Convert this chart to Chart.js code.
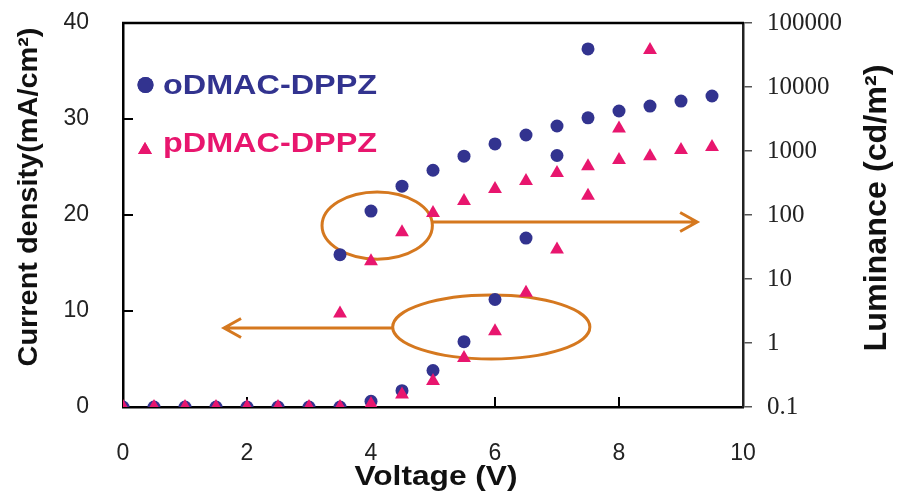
<!DOCTYPE html>
<html>
<head>
<meta charset="utf-8">
<script src="https://cdn.jsdelivr.net/npm/chart.js@4.4.0/dist/chart.umd.min.js"></script>
<style>
  html, body { margin: 0; padding: 0; background: #fff; }
  #wrap { width: 898px; height: 501px; }
</style>
</head>
<body>
<div id="wrap"><canvas id="chart" width="898" height="501"></canvas></div>
<script>
// voltage steps (V)
const voltage = [0, 0.5, 1, 1.5, 2, 2.5, 3, 3.5, 4, 4.5, 5, 5.5, 6, 6.5, 7, 7.5, 8, 8.5, 9, 9.5];

// current density (mA/cm2)
const oCurrent = [0, 0, 0, 0, 0, 0, 0, 0, 0.6, 1.7, 3.8, 6.8, 11.2, 17.6, 26.2, 37.3];
const pCurrent = [0, 0, 0, 0, 0, 0, 0, 0, 0.3, 1.3, 2.7, 5.1, 7.9, 11.9, 16.4, 22.0, 29.0, 37.2];

// luminance (cd/m2), right log axis, starting at 3.5 V
const lumVoltage = [3.5, 4, 4.5, 5, 5.5, 6, 6.5, 7, 7.5, 8, 8.5, 9, 9.5];
const oLuminance = [24, 115, 282, 500, 830, 1290, 1780, 2460, 3300, 4220, 5040, 6030, 7240];
const pLuminance = [2.9, 19, 54, 107, 165, 255, 340, 453, 580, 725, 830, 1040, 1150];

const xTicks = [0, 2, 4, 6, 8, 10];
const currentTicks = [0, 10, 20, 30, 40];
const lumTicks = [0.1, 1, 10, 100, 1000, 10000, 100000];
const seriesNames = ['oDMAC-DPPZ', 'pDMAC-DPPZ'];

const BLUE = '#32338f';
const PINK = '#e8166e';
const ORANGE = '#d5781f';
const SANS = '"Liberation Sans", Arial, sans-serif';
const SERIF = '"Liberation Serif", "Times New Roman", serif';

const pts = (xs, ys) => ys.map((y, i) => ({ x: xs[i], y: y }));

// draw text squeezed/stretched to a given length
function fitText(ctx, text, x, y, len, angle) {
    ctx.save();
    ctx.translate(x, y);
    ctx.rotate(angle || 0);
    const w = ctx.measureText(text).width;
    ctx.scale(len / w, 1);
    ctx.fillText(text, 0, 0);
    ctx.restore();
}

// fixed axis box sizes, so the plot area lands where the original has it
const fixSize = (w, h) => s => {
    if (w) s.width = w;
    if (h) s.height = h;
    s.paddingTop = 0;
    s.paddingBottom = 0;
};

// orange callouts, in data units of the x axis and the left axis
const callouts = [
    { cx: 4.1, cy: 18.9, rx: 0.89, ry: 3.5, fromX: 4.99, toX: 9.26, arrowY: 19.27 },
    { cx: 5.94, cy: 8.33, rx: 1.59, ry: 3.33, fromX: 4.35, toX: 1.63, arrowY: 8.23 }
];

const decorations = {
    id: 'decorations',
    beforeDatasetsDraw(chart) {
        const { ctx, scales } = chart;
        const x = scales.x, y = scales.yJ;
        const left = x.getPixelForValue(xTicks[0]);
        const right = x.getPixelForValue(xTicks[xTicks.length - 1]);
        const top = y.getPixelForValue(currentTicks[currentTicks.length - 1]);
        const bottom = y.getPixelForValue(currentTicks[0]);
        ctx.save();

        // top frame line
        ctx.strokeStyle = '#000000';
        ctx.lineWidth = 2.5;
        ctx.beginPath();
        ctx.moveTo(left - 1, top);
        ctx.lineTo(right + 1, top);
        ctx.stroke();

        // inward tick marks
        ctx.lineWidth = 2;
        ctx.beginPath();
        xTicks.slice(1, -1).forEach(v => {
            const px = x.getPixelForValue(v);
            ctx.moveTo(px, bottom);
            ctx.lineTo(px, bottom - 10);
        });
        currentTicks.slice(1).forEach(v => {
            const py = y.getPixelForValue(v);
            ctx.moveTo(left, py);
            ctx.lineTo(left + 10, py);
        });
        ctx.stroke();

        // callouts
        ctx.strokeStyle = ORANGE;
        ctx.lineWidth = 3;
        callouts.forEach(c => {
            const px = x.getPixelForValue(c.cx), py = y.getPixelForValue(c.cy);
            const rx = x.getPixelForValue(c.cx + c.rx) - px;
            const ry = py - y.getPixelForValue(c.cy + c.ry);
            ctx.beginPath();
            ctx.ellipse(px, py, rx, ry, 0, 0, Math.PI * 2);
            ctx.stroke();
            const ay = y.getPixelForValue(c.arrowY);
            const x0 = x.getPixelForValue(c.fromX), x1 = x.getPixelForValue(c.toX);
            const d = x1 > x0 ? -1 : 1;
            ctx.beginPath();
            ctx.moveTo(x0, ay);
            ctx.lineTo(x1, ay);
            ctx.moveTo(x1 + d * 17, ay - 9.5);
            ctx.lineTo(x1, ay);
            ctx.lineTo(x1 + d * 17, ay + 9.5);
            ctx.stroke();
        });
        ctx.restore();
    },
    afterDraw(chart) {
        const { ctx } = chart;
        ctx.save();

        // legend inside the plot
        const marks = [
            { style: 'circle', r: 8, color: BLUE, mx: 145.5, my: 85, ty: 86 },
            { style: 'triangle', r: 8, color: PINK, mx: 145, my: 150, ty: 144 }
        ];
        ctx.font = 'bold 28px ' + SANS;
        ctx.textAlign = 'left';
        ctx.textBaseline = 'middle';
        marks.forEach((m, i) => {
            ctx.fillStyle = m.color;
            ctx.strokeStyle = m.color;
            Chart.helpers.drawPoint(ctx, { pointStyle: m.style, radius: m.r, borderWidth: 0, rotation: 0 }, m.mx, m.my);
            ctx.fill();
            ctx.save();
            ctx.translate(163, m.ty);
            const w = ctx.measureText(seriesNames[i]).width;
            ctx.scale(214 / w, 1);
            ctx.fillText(seriesNames[i], 0, 0);
            ctx.restore();
        });

        // axis titles
        ctx.fillStyle = '#111';
        ctx.textAlign = 'center';
        ctx.font = 'bold 27px ' + SANS;
        fitText(ctx, 'Voltage (V)', 436, 478, 163, 0);
        ctx.font = 'bold 28px ' + SANS;
        fitText(ctx, 'Current density(mA/cm²)', 29, 197, 339, -Math.PI / 2);
        ctx.font = 'bold 31px ' + SANS;
        fitText(ctx, 'Luminance (cd/m²)', 877, 208, 287, -Math.PI / 2);
        ctx.restore();
    }
};

const ctx = document.getElementById('chart').getContext('2d');
new Chart(ctx, {
    type: 'scatter',
    data: {
        datasets: [
            {
                label: seriesNames[1] + ' J',
                data: pts(voltage, pCurrent),
                yAxisID: 'yJ',
                pointStyle: 'triangle',
                pointRadius: 8,
                backgroundColor: PINK,
                borderWidth: 0,
                order: 0
            },
            {
                label: seriesNames[1] + ' L',
                data: pts(lumVoltage, pLuminance),
                yAxisID: 'yL',
                pointStyle: 'triangle',
                pointRadius: 8,
                backgroundColor: PINK,
                borderWidth: 0,
                order: 0
            },
            {
                label: seriesNames[0] + ' J',
                data: pts(voltage, oCurrent),
                yAxisID: 'yJ',
                pointStyle: 'circle',
                pointRadius: 6.5,
                backgroundColor: BLUE,
                borderWidth: 0,
                order: 1
            },
            {
                label: seriesNames[0] + ' L',
                data: pts(lumVoltage, oLuminance),
                yAxisID: 'yL',
                pointStyle: 'circle',
                pointRadius: 6.5,
                backgroundColor: BLUE,
                borderWidth: 0,
                order: 1
            }
        ]
    },
    options: {
        responsive: false,
        animation: false,
        events: [],
        layout: { padding: { top: 23, left: 0, right: 0, bottom: 0 } },
        plugins: {
            legend: { display: false },
            tooltip: { enabled: false }
        },
        scales: {
            x: {
                type: 'linear',
                min: 0,
                max: 10,
                afterBuildTicks: s => { s.ticks = xTicks.map(v => ({ value: v })); },
                afterFit: fixSize(0, 94),
                grid: { display: false },
                border: { display: true, color: '#000', width: 2.5 },
                ticks: { padding: 25, color: '#222', font: { family: SANS, size: 23 } }
            },
            yJ: {
                type: 'linear',
                position: 'left',
                min: 0,
                max: 40,
                afterBuildTicks: s => { s.ticks = currentTicks.map(v => ({ value: v })); },
                afterFit: fixSize(123, 0),
                grid: { display: false },
                border: { display: true, color: '#000', width: 2.5 },
                ticks: { padding: 26, color: '#222', font: { family: SANS, size: 23 } }
            },
            yL: {
                type: 'logarithmic',
                position: 'right',
                min: 0.1,
                max: 100000,
                afterBuildTicks: s => { s.ticks = lumTicks.map(v => ({ value: v })); },
                afterFit: fixSize(155, 0),
                grid: { display: true, drawOnChartArea: false, drawTicks: true, tickLength: 9, color: '#555', lineWidth: 1.5 },
                border: { display: true, color: '#222', width: 2.5 },
                ticks: {
                    padding: 15,
                    color: '#222',
                    font: { family: SERIF, size: 25 },
                    callback: v => String(v)
                }
            }
        }
    },
    plugins: [decorations]
});
</script>
</body>
</html>
